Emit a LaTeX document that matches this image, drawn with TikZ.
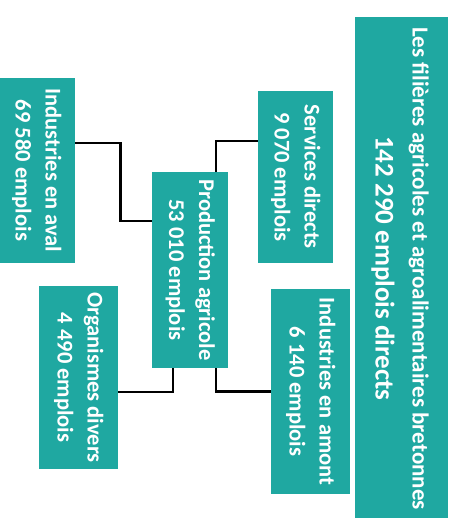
\documentclass[tikz,border=0pt]{standalone}
\usepackage{fontspec}
\setmainfont{Carlito}
\usepackage{graphicx}
\definecolor{teal1}{RGB}{31,168,161}
\tikzset{
  box/.style={fill=teal1, draw=none, inner sep=0pt, text=white, font=\bfseries},
  link/.style={draw=black, line width=2.6pt}
}
\newcommand{\rtext}[3]{\rotatebox{-90}{\fontsize{#1}{#2}\selectfont\begin{tabular}{@{}c@{}}#3\end{tabular}}}
\begin{document}
\begin{tikzpicture}[x=1pt,y=-1pt]
\clip (0,0) rectangle (455,518);
\fill[white] (0,0) rectangle (455,518);
% main title box
\node[box, minimum width=93pt, minimum height=503pt] (main) at (401.5,268.5)
  {\rotatebox{-90}{\fontsize{23}{37}\selectfont\begin{tabular}{@{}c@{}}\fontsize{23}{37}\selectfont Les filières agricoles et agroalimentaires bretonnes\\ \fontsize{27}{37}\selectfont 142 290 emplois directs\end{tabular}}};
% boxes
\node[box, minimum width=77pt, minimum height=185pt] (aval) at (36.5,170.5)
  {\rtext{22.5}{30}{Industries en aval\\69 580 emplois}};
\node[box, minimum width=75pt, minimum height=172pt] (serv) at (295.5,177)
  {\rtext{22.5}{30}{Services directs\\9 070 emplois}};
\node[box, minimum width=76pt, minimum height=196pt] (prod) at (190,270)
  {\rtext{22.5}{30}{Production agricole\\53 010 emplois}};
\node[box, minimum width=79pt, minimum height=183pt] (org) at (78.5,377.5)
  {\rtext{22.5}{30}{Organismes divers\\4 490 emplois}};
\node[box, minimum width=79pt, minimum height=205pt] (amont) at (310.5,391.5)
  {\rtext{22.5}{30}{Industries en amont\\6 140 emplois}};
% connectors
\draw[link] ([yshift=27.5pt]aval.east) -- ++(45,0) |- ([yshift=49pt]prod.west);
\draw[link] ([xshift=26pt]prod.north) |- ([yshift=36pt]serv.west);
\draw[link] ([xshift=-17pt]prod.south) |- ([yshift=-14.5pt]org.east);
\draw[link] ([xshift=26pt]prod.south) |- (amont.west);
\end{tikzpicture}
\end{document}
